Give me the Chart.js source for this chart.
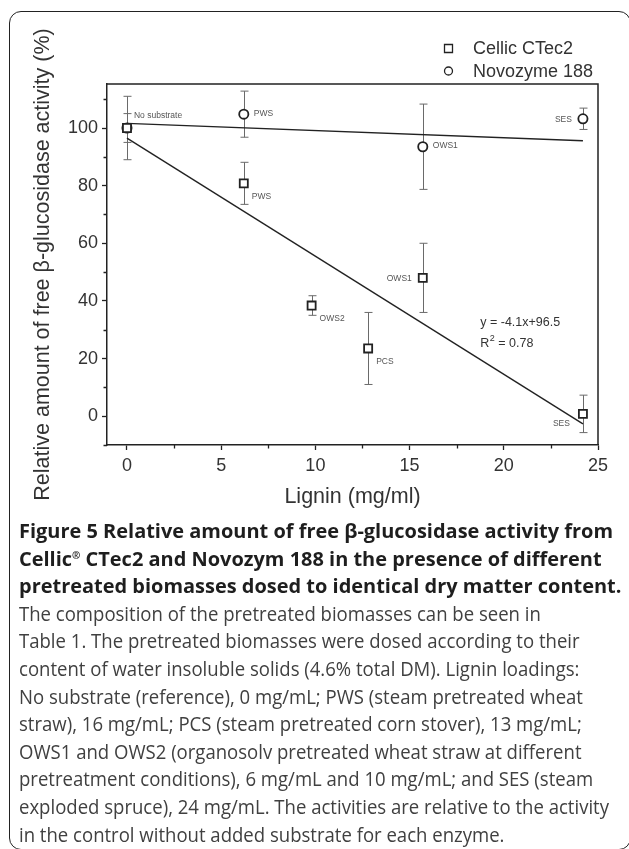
<!DOCTYPE html>
<html lang="en">
<head>
    <meta charset="UTF-8">
    <title>Figure 5</title>
    <script src="https://cdn.jsdelivr.net/npm/chart.js"></script>
    <style>
        body {
            margin: 0;
            width: 629px;
            height: 849px;
            overflow: hidden;
            background: #fff;
            position: relative;
        }
        .frame {
            position: absolute;
            left: 9px;
            top: 11px;
            width: 622px;
            height: 839px;
            border: 1.5px solid #222;
            border-radius: 12px;
            box-sizing: border-box;
        }
        #chart {
            position: absolute;
            left: 0;
            top: 0;
        }
        .caption {
            position: absolute;
            left: 19px;
            top: 517px;
            font-family: "Open Sans", "Noto Sans", sans-serif;
            font-size: 20px;
            line-height: 27.6px;
            color: #404040;
        }
        .caption .ln {
            display: block;
            width: max-content;
            white-space: nowrap;
            transform-origin: 0 50%;
        }
        .caption .bold {
            font-weight: bold;
            color: #1e1e1e;
        }
        .caption sup {
            font-size: 10px;
            vertical-align: 7px;
            line-height: 0;
        }
    </style>
</head>
<body>
    <div class="frame"></div>
    <canvas id="chart" width="629" height="540"></canvas>

    <div class="caption">
        <span class="ln bold">Figure 5 Relative amount of free β-glucosidase activity from</span>
        <span class="ln bold">Cellic<sup>®</sup> CTec2 and Novozym 188 in the presence of different</span>
        <span class="ln bold">pretreated biomasses dosed to identical dry matter content.</span>
        <span class="ln body">The composition of the pretreated biomasses can be seen in</span>
        <span class="ln body">Table 1. The pretreated biomasses were dosed according to their</span>
        <span class="ln body">content of water insoluble solids (4.6% total DM). Lignin loadings:</span>
        <span class="ln body">No substrate (reference), 0 mg/mL; PWS (steam pretreated wheat</span>
        <span class="ln body">straw), 16 mg/mL; PCS (steam pretreated corn stover), 13 mg/mL;</span>
        <span class="ln body">OWS1 and OWS2 (organosolv pretreated wheat straw at different</span>
        <span class="ln body">pretreatment conditions), 6 mg/mL and 10 mg/mL; and SES (steam</span>
        <span class="ln body">exploded spruce), 24 mg/mL. The activities are relative to the activity</span>
        <span class="ln body">in the control without added substrate for each enzyme.</span>
    </div>

    <script>
        // Cellic CTec2 (squares)
        const cellicLignin = [0, 6.2, 9.8, 12.8, 15.7, 24.2];
        const cellicActivity = [100, 80.8, 38.4, 23.5, 48, 0.8];
        const cellicError = [5, 7.3, 3.4, 12.5, 12, 6.5];
        const cellicNames = ["", "PWS", "OWS2", "PCS", "OWS1", "SES"];

        // Novozyme 188 (circles)
        const novoLignin = [0, 6.2, 15.7, 24.2];
        const novoActivity = [100, 104.8, 93.5, 103.2];
        const novoError = [11, 8, 14.8, 3.7];
        const novoNames = ["No substrate", "PWS", "OWS1", "SES"];

        // linear fits, end points
        const fitLignin = [0, 24.2];
        const cellicFit = [96.5, -2.7];
        const novoFit = [101.6, 95.6];
        const fitEquation = "y = -4.1x+96.5";
        const fitR2 = "0.78";

        // unlabelled minor ticks
        const xMinorTicks = [2.5, 7.5, 12.5, 17.5, 22.5];
        const yMinorTicks = [-10, 10, 30, 50, 70, 90, 110];

        const seriesNames = ["Cellic CTec2", "Novozyme 188"];
        const xTitle = "Lignin (mg/ml)";
        const yTitle = "Relative amount of free β-glucosidase activity (%)";

        // where each point name sits next to its marker
        const cellicLabelSide = ["", "rb", "rb", "rb", "l", "lb"];
        const novoLabelSide = ["ra", "r", "r", "l"];

        const ink = "#222";
        const textColor = "#333";

        function toPoints(xs, ys) {
            return xs.map((x, i) => ({ x: x, y: ys[i] }));
        }

        const labelOffsets = {
            r:  { dx: 10, dy: -1, align: "left" },
            ra: { dx: 7, dy: -12, align: "left" },
            rb: { dx: 8, dy: 13, align: "left" },
            l:  { dx: -11, dy: 1, align: "right" },
            lb: { dx: -13, dy: 10, align: "right" }
        };

        // error bars, point names, frame, minor ticks, legend and fit text
        const decorations = {
            id: "decorations",
            beforeDatasetsDraw(chart) {
                const ctx = chart.ctx;
                const xs = chart.scales.x, ys = chart.scales.y;
                ctx.save();
                ctx.strokeStyle = "#6a6a6a";
                ctx.lineWidth = 1;
                const bars = [[cellicLignin, cellicActivity, cellicError], [novoLignin, novoActivity, novoError]];
                bars.forEach(([lx, ly, le]) => {
                    lx.forEach((x, i) => {
                        const px = Math.round(xs.getPixelForValue(x)) + 0.5;
                        const top = ys.getPixelForValue(ly[i] + le[i]);
                        const bot = ys.getPixelForValue(ly[i] - le[i]);
                        ctx.beginPath();
                        ctx.moveTo(px, top); ctx.lineTo(px, bot);
                        ctx.moveTo(px - 4, top); ctx.lineTo(px + 4, top);
                        ctx.moveTo(px - 4, bot); ctx.lineTo(px + 4, bot);
                        ctx.stroke();
                    });
                });
                ctx.restore();
            },
            afterDraw(chart) {
                const ctx = chart.ctx;
                const area = chart.chartArea;
                const xs = chart.scales.x, ys = chart.scales.y;
                ctx.save();

                // top and right sides of the box
                ctx.strokeStyle = ink;
                ctx.lineWidth = 1.5;
                ctx.beginPath();
                ctx.moveTo(area.left, area.top);
                ctx.lineTo(area.right, area.top);
                ctx.lineTo(area.right, area.bottom);
                ctx.stroke();

                // minor ticks, shorter than the labelled ones
                ctx.lineWidth = 1.3;
                ctx.beginPath();
                xMinorTicks.forEach(v => {
                    const px = Math.round(xs.getPixelForValue(v)) + 0.5;
                    ctx.moveTo(px, area.bottom);
                    ctx.lineTo(px, area.bottom + 3.5);
                });
                yMinorTicks.forEach(v => {
                    const py = Math.round(ys.getPixelForValue(v)) + 0.5;
                    ctx.moveTo(area.left, py);
                    ctx.lineTo(area.left - 3.5, py);
                });
                ctx.stroke();

                // point names
                ctx.font = "8.5px 'Liberation Sans', Arial, sans-serif";
                ctx.fillStyle = "#555";
                ctx.textBaseline = "middle";
                const named = [[cellicLignin, cellicActivity, cellicNames, cellicLabelSide], [novoLignin, novoActivity, novoNames, novoLabelSide]];
                named.forEach(([lx, ly, names, sides]) => {
                    lx.forEach((x, i) => {
                        if (!names[i]) return;
                        const o = labelOffsets[sides[i]];
                        ctx.textAlign = o.align;
                        ctx.fillText(names[i], xs.getPixelForValue(x) + o.dx, ys.getPixelForValue(ly[i]) + o.dy);
                    });
                });

                // fit equation
                ctx.fillStyle = textColor;
                ctx.textAlign = "left";
                ctx.font = "12.5px 'Liberation Sans', Arial, sans-serif";
                const ex = xs.getPixelForValue(18.75);
                const ey = ys.getPixelForValue(32.4);
                ctx.fillText(fitEquation, ex, ey);
                ctx.fillText("R", ex, ey + 21);
                const rw = ctx.measureText("R").width;
                ctx.font = "9px 'Liberation Sans', Arial, sans-serif";
                ctx.fillText("2", ex + rw + 0.5, ey + 16);
                const sw = ctx.measureText("2").width;
                ctx.font = "12.5px 'Liberation Sans', Arial, sans-serif";
                ctx.fillText(" = " + fitR2, ex + rw + sw + 0.5, ey + 21);

                // legend
                ctx.font = "18px 'Liberation Sans', Arial, sans-serif";
                ctx.strokeStyle = ink;
                ctx.lineWidth = 1.3;
                ctx.fillStyle = "#fff";
                ctx.beginPath();
                ctx.rect(444.5, 44.5, 8, 8);
                ctx.fill(); ctx.stroke();
                ctx.beginPath();
                ctx.arc(448.5, 71, 4, 0, Math.PI * 2);
                ctx.fill(); ctx.stroke();
                ctx.fillStyle = textColor;
                ctx.fillText(seriesNames[0], 473, 49);
                ctx.fillText(seriesNames[1], 473, 72);
                ctx.restore();
            }
        };

        const tickFont = { family: "'Liberation Sans', Arial, sans-serif", size: 18 };
        const titleFont = { family: "'Liberation Sans', Arial, sans-serif", size: 21.5 };

        new Chart(document.getElementById("chart"), {
            type: "scatter",
            data: {
                datasets: [
                    {
                        label: seriesNames[0],
                        data: toPoints(cellicLignin, cellicActivity),
                        pointStyle: "rect",
                        pointRadius: 5.7,
                        pointBorderWidth: 1.8,
                        borderColor: ink,
                        backgroundColor: "#fff",
                        order: 0
                    },
                    {
                        label: seriesNames[1],
                        data: toPoints(novoLignin, novoActivity),
                        pointStyle: "circle",
                        pointRadius: 4.6,
                        pointBorderWidth: 1.8,
                        borderColor: ink,
                        backgroundColor: "#fff",
                        order: 0
                    },
                    {
                        type: "line",
                        data: toPoints(fitLignin, cellicFit),
                        borderColor: ink,
                        borderWidth: 1.4,
                        pointRadius: 0,
                        fill: false,
                        order: 1
                    },
                    {
                        type: "line",
                        data: toPoints(fitLignin, novoFit),
                        borderColor: ink,
                        borderWidth: 1.4,
                        pointRadius: 0,
                        fill: false,
                        order: 1
                    }
                ]
            },
            options: {
                responsive: false,
                animation: false,
                layout: { padding: { top: 84, right: 31, left: 0, bottom: 0 } },
                plugins: {
                    legend: { display: false },
                    tooltip: { enabled: false }
                },
                scales: {
                    x: {
                        type: "linear",
                        min: -1.06,
                        max: 25,
                        afterFit: s => { s.height = 95; },
                        border: { display: true, color: ink, width: 1.5 },
                        grid: { drawOnChartArea: false, drawTicks: true, tickLength: 5, tickColor: ink, tickWidth: 1.3 },
                        ticks: {
                            stepSize: 5,
                            includeBounds: false,
                            autoSkip: false,
                            maxRotation: 0,
                            padding: 5,
                            color: textColor,
                            font: tickFont
                        },
                        title: { display: true, text: xTitle, color: textColor, font: titleFont, padding: { top: 0, bottom: 30 } }
                    },
                    y: {
                        type: "linear",
                        min: -10,
                        max: 115.27,
                        afterFit: s => { s.width = 107; },
                        border: { display: true, color: ink, width: 1.5 },
                        grid: { drawOnChartArea: false, drawTicks: true, tickLength: 5, tickColor: ink, tickWidth: 1.3 },
                        ticks: {
                            stepSize: 20,
                            includeBounds: false,
                            autoSkip: false,
                            padding: 4,
                            color: textColor,
                            font: tickFont
                        },
                        title: { display: true, text: yTitle, color: textColor, font: titleFont, padding: { top: 30, bottom: 0 } }
                    }
                }
            },
            plugins: [decorations]
        });

        // squeeze the caption lines to the column width of the printed figure
        function fitLines(cls, refIndex, target) {
            const lines = document.querySelectorAll(".caption ." + cls);
            const w = lines[refIndex].getBoundingClientRect().width;
            const s = target / w;
            lines.forEach(l => { l.style.transform = "scaleX(" + s + ")"; });
        }
        fitLines("bold", 0, 594);
        fitLines("body", 7, 590);
    </script>
</body>
</html>
